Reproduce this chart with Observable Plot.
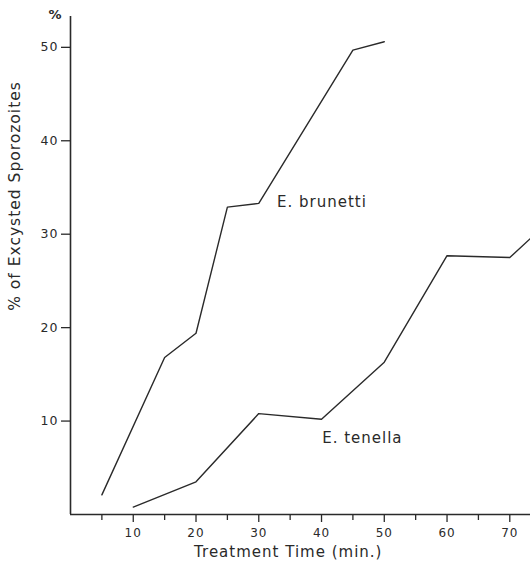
<!DOCTYPE html>
<html>
<head>
<meta charset="utf-8">
<script src="https://cdn.jsdelivr.net/npm/d3@7"></script>
<script src="https://cdn.jsdelivr.net/npm/@observablehq/plot@0.6"></script>
<style>
  html, body { margin: 0; padding: 0; background: #fff; }
  #chart svg { display: block; }
</style>
</head>
<body>
<div id="chart"></div>
<script>
// Treatment time (min.) and % of excysted sporozoites
const brunettiTime = [5, 15, 20, 25, 30, 45, 50];
const brunettiPct  = [2.1, 16.8, 19.4, 32.9, 33.3, 49.7, 50.6];
const tenellaTime  = [10, 20, 30, 40, 50, 60, 70, 75];
const tenellaPct   = [0.8, 3.5, 10.8, 10.2, 16.3, 27.7, 27.5, 30.6];

const xMajorTicks = [10, 20, 30, 40, 50, 60, 70];
const xMinorTicks = [5, 15, 25, 35, 45, 55, 65];
const yTicks = [10, 20, 30, 40, 50];

const seriesLabels = [
  {name: "E. brunetti", x: 32.9, y: 33.4},
  {name: "E. tenella", x: 40.1, y: 8.2}
];

const brunetti = brunettiTime.map((t, i) => ({time: t, pct: brunettiPct[i]}));
const tenella = tenellaTime.map((t, i) => ({time: t, pct: tenellaPct[i]}));

const ink = "#2a2a2a";
const font = "DejaVu Sans, sans-serif";

const chart = Plot.plot({
  width: 530,
  height: 564,
  marginLeft: 70,
  marginRight: 0,
  marginTop: 16,
  marginBottom: 50,
  style: {fontFamily: font, color: ink, background: "#fff"},
  x: {domain: [0, 73.3]},
  y: {domain: [0, 53.3]},
  marks: [
    Plot.axisY({ticks: yTicks, tickSize: 9, tickPadding: 3, fontSize: 12.5, label: null, stroke: ink, strokeWidth: 1.3}),
    Plot.axisX({ticks: xMajorTicks, tickSize: 8, tickPadding: 6, fontSize: 12, label: null, stroke: ink, strokeWidth: 1.3}),
    Plot.axisX({ticks: xMinorTicks, tickSize: 6, text: null, label: null, stroke: ink, strokeWidth: 1.3}),
    Plot.ruleX([0], {stroke: ink, strokeWidth: 1.6}),
    Plot.ruleY([0], {stroke: ink, strokeWidth: 1.6}),
    Plot.line(brunetti, {x: "time", y: "pct", stroke: ink, strokeWidth: 1.4, clip: true}),
    Plot.line(tenella, {x: "time", y: "pct", stroke: ink, strokeWidth: 1.4, clip: true}),
    Plot.text(seriesLabels, {x: "x", y: "y", text: "name", textAnchor: "start", fontSize: 15, fill: ink}),
    Plot.text(["% of Excysted Sporozoites"], {frameAnchor: "left", y: [21.8], dx: -55, rotate: -90, fontSize: 15.5, fill: ink}),
    Plot.text(["Treatment Time (min.)"], {frameAnchor: "bottom", x: [34.7], dy: 42, fontSize: 15, fill: ink}),
    Plot.text(["%"], {frameAnchor: "top-left", dx: -22, dy: -7, fontSize: 13, fontWeight: "bold", fill: ink})
  ]
});

chart.querySelectorAll("text").forEach(t => { t.style.letterSpacing = "1px"; });
document.getElementById("chart").appendChild(chart);
</script>
</body>
</html>
